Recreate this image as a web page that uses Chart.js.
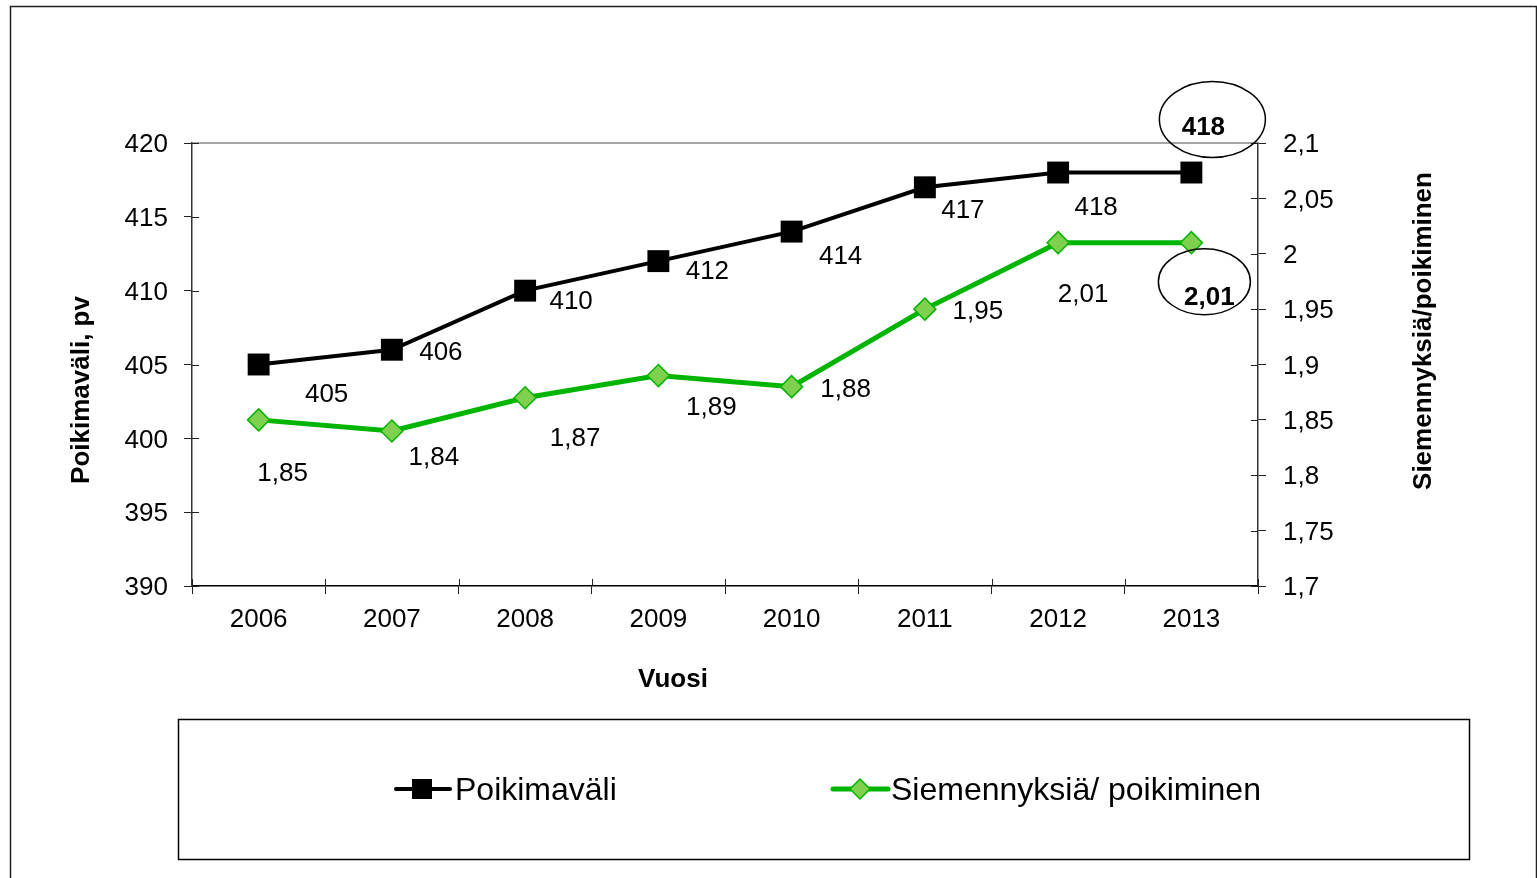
<!DOCTYPE html>
<html>
<head>
<meta charset="utf-8">
<script src="https://cdn.jsdelivr.net/npm/chart.js@4/dist/chart.umd.min.js"></script>
<style>
  body { margin: 0; background: #fff; }
  canvas { display: block; }
</style>
</head>
<body>
<canvas id="chart" width="1537" height="878"></canvas>
<script>
// ---- data ----
const years = ["2006", "2007", "2008", "2009", "2010", "2011", "2012", "2013"];
const poikimavali = [405, 406, 410, 412, 414, 417, 418, 418];
const siemennyksia = [1.85, 1.84, 1.87, 1.89, 1.88, 1.95, 2.01, 2.01];

const FONT = "'Liberation Sans', Arial, sans-serif";
const GREEN = "#00b400";
const GREEN_FILL = "#80d050";
const TY = 2; // text baseline nudge

// label offsets from each point (px), last one is the circled bold value
const blackLabelOff = [[68, 28], [49, 1], [46, 9], [49, 9], [49, 23], [38, 22], [38, 33], [12, -47]];
const greenLabelOff = [[24, 52], [42, 25], [50, 39], [53, 30], [54, 1], [53, 1], [25, 50], [18, 53]];

function fmt(v) {
  return String(Number(v.toFixed(2))).replace(".", ",");
}

const extrasPlugin = {
  id: "extras",
  beforeDraw(chart) {
    const ctx = chart.ctx;
    ctx.save();
    ctx.fillStyle = "#fff";
    ctx.fillRect(0, 0, chart.width, chart.height);
    // outer frame
    ctx.strokeStyle = "#222";
    ctx.lineWidth = 1.5;
    ctx.strokeRect(10.5, 6.5, 1526, 900);
    ctx.restore();
  },
  afterDraw(chart) {
    const { ctx, chartArea } = chart;
    const x = chart.scales.x, yL = chart.scales.y, yR = chart.scales.y2;
    ctx.save();

    // top border of plot
    ctx.strokeStyle = "#888";
    ctx.lineWidth = 1.5;
    ctx.beginPath();
    ctx.moveTo(chartArea.left, chartArea.top);
    ctx.lineTo(chartArea.right, chartArea.top);
    ctx.stroke();

    // inner halves of tick marks
    ctx.strokeStyle = "#222";
    ctx.lineWidth = 1;
    ctx.beginPath();
    yL.ticks.forEach((t, i) => {
      const py = Math.round(yL.getPixelForTick(i)) + 0.5;
      ctx.moveTo(chartArea.left, py); ctx.lineTo(chartArea.left + 7, py);
    });
    yR.ticks.forEach((t, i) => {
      const py = Math.round(yR.getPixelForTick(i)) + 0.5;
      ctx.moveTo(chartArea.right, py); ctx.lineTo(chartArea.right - 7, py);
    });
    const step = (x.getPixelForValue(1) - x.getPixelForValue(0));
    for (let i = 0; i <= years.length; i++) {
      const px = Math.round(x.getPixelForValue(0) - step / 2 + i * step) + 0.5;
      ctx.moveTo(px, chartArea.bottom); ctx.lineTo(px, chartArea.bottom - 7);
    }
    ctx.stroke();

    // data labels
    ctx.fillStyle = "#000";
    ctx.textAlign = "center";
    ctx.textBaseline = "middle";
    const m0 = chart.getDatasetMeta(0).data;
    const m1 = chart.getDatasetMeta(1).data;
    const last = years.length - 1;
    m0.forEach((p, i) => {
      ctx.font = (i === last ? "bold " : "") + "26px " + FONT;
      ctx.fillText(String(poikimavali[i]), p.x + blackLabelOff[i][0], p.y + blackLabelOff[i][1] + TY);
    });
    m1.forEach((p, i) => {
      ctx.font = (i === last ? "bold " : "") + "26px " + FONT;
      ctx.fillText(fmt(siemennyksia[i]), p.x + greenLabelOff[i][0], p.y + greenLabelOff[i][1] + TY);
    });

    // circles round the last values
    ctx.strokeStyle = "#000";
    ctx.lineWidth = 1.5;
    const pb = m0[last], pg = m1[last];
    ctx.beginPath();
    ctx.ellipse(pb.x + 21, pb.y - 53, 53, 38, 0, 0, Math.PI * 2);
    ctx.stroke();
    ctx.beginPath();
    ctx.ellipse(pg.x + 13, pg.y + 39, 46, 33, 0, 0, Math.PI * 2);
    ctx.stroke();

    // axis titles
    ctx.font = "bold 26px " + FONT;
    ctx.fillText("Vuosi", 673, 678 + TY);
    ctx.save();
    ctx.translate(80 + TY, 390);
    ctx.rotate(-Math.PI / 2);
    ctx.fillText("Poikimaväli, pv", 0, 0);
    ctx.restore();
    ctx.save();
    ctx.translate(1422 + TY, 331);
    ctx.rotate(-Math.PI / 2);
    ctx.fillText("Siemennyksiä/poikiminen", 0, 0);
    ctx.restore();

    // legend
    ctx.lineWidth = 1.5;
    ctx.strokeStyle = "#000";
    ctx.strokeRect(178.5, 719.5, 1291, 140);
    const ly = 789;
    ctx.lineCap = "round";
    ctx.lineWidth = 4;
    ctx.strokeStyle = "#000";
    ctx.beginPath(); ctx.moveTo(396, ly); ctx.lineTo(450, ly); ctx.stroke();
    ctx.fillStyle = "#000";
    ctx.fillRect(412, ly - 10, 20, 20);
    ctx.lineWidth = 5;
    ctx.strokeStyle = GREEN;
    ctx.beginPath(); ctx.moveTo(833, ly); ctx.lineTo(888, ly); ctx.stroke();
    ctx.lineWidth = 1.5;
    ctx.fillStyle = GREEN_FILL;
    ctx.beginPath();
    ctx.moveTo(860, ly - 10); ctx.lineTo(870, ly); ctx.lineTo(860, ly + 10); ctx.lineTo(850, ly);
    ctx.closePath(); ctx.fill(); ctx.stroke();
    ctx.fillStyle = "#000";
    ctx.font = "32px " + FONT;
    ctx.textAlign = "left";
    ctx.fillText("Poikimaväli", 455, ly + TY);
    ctx.fillText("Siemennyksiä/ poikiminen", 891, ly + TY);

    ctx.restore();
  }
};

new Chart(document.getElementById("chart"), {
  type: "line",
  data: {
    labels: years,
    datasets: [
      {
        label: "Poikimaväli",
        data: poikimavali,
        yAxisID: "y",
        borderColor: "#000",
        borderWidth: 4,
        pointStyle: "rect",
        pointRadius: 15.5,
        pointBackgroundColor: "#000",
        pointBorderColor: "#000",
        pointBorderWidth: 0,
        tension: 0,
        clip: false
      },
      {
        label: "Siemennyksiä/ poikiminen",
        data: siemennyksia,
        yAxisID: "y2",
        borderColor: GREEN,
        borderWidth: 5,
        pointStyle: "rectRot",
        pointRadius: 11,
        pointBackgroundColor: GREEN_FILL,
        pointBorderColor: GREEN,
        pointBorderWidth: 1.5,
        tension: 0,
        clip: false
      }
    ]
  },
  options: {
    responsive: false,
    animation: false,
    events: [],
    layout: { padding: { top: 143, left: 0, right: 0, bottom: 0 } },
    plugins: { legend: { display: false }, tooltip: { enabled: false } },
    scales: {
      x: {
        offset: true,
        grid: { offset: true, drawOnChartArea: false, tickLength: 8, color: "#222" },
        border: { display: true, color: "#000", width: 1.5 },
        ticks: { color: "#000", font: { family: FONT, size: 26 }, padding: 10, maxRotation: 0 },
        afterFit(s) { s.height = 292; }
      },
      y: {
        position: "left",
        min: 390, max: 420,
        grid: { drawOnChartArea: false, tickLength: 8, color: "#222" },
        border: { display: true, color: "#333", width: 1.5 },
        ticks: { stepSize: 5, color: "#000", font: { family: FONT, size: 26 }, padding: 16, labelOffset: 2 },
        afterFit(s) { s.width = 192; }
      },
      y2: {
        position: "right",
        min: 1.7, max: 2.1,
        grid: { drawOnChartArea: false, tickLength: 8, color: "#222" },
        border: { display: true, color: "#333", width: 1.5 },
        ticks: { stepSize: 0.05, color: "#000", font: { family: FONT, size: 26 }, padding: 17, labelOffset: 2, callback: v => fmt(v) },
        afterFit(s) { s.width = 279; }
      }
    }
  },
  plugins: [extrasPlugin]
});
</script>
</body>
</html>
